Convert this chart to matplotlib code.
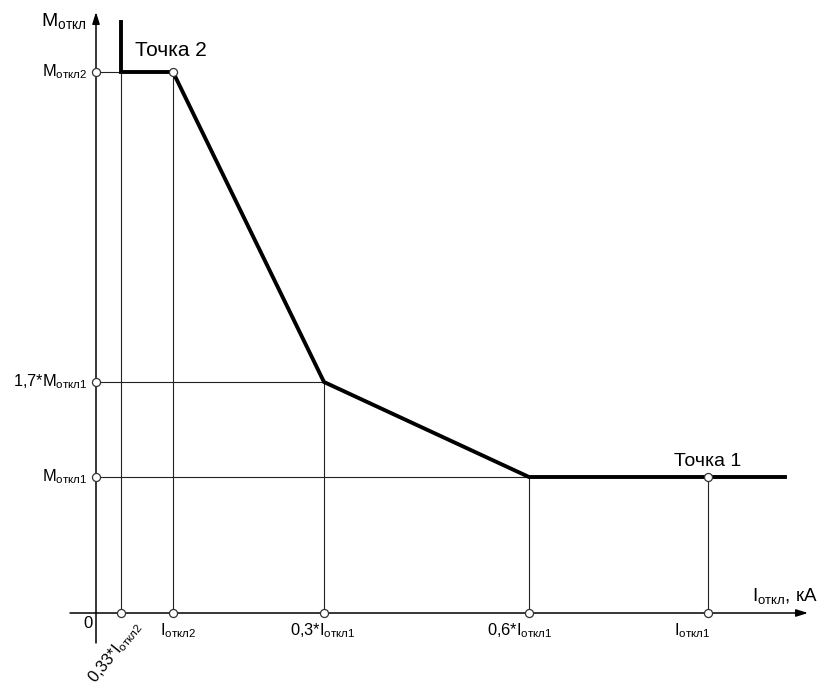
import numpy as np
import matplotlib.pyplot as plt

plt.rcParams['font.family'] = ['Liberation Sans', 'DejaVu Sans']
plt.rcParams['mathtext.fontset'] = 'custom'
plt.rcParams['mathtext.rm'] = 'Liberation Sans'
plt.rcParams['mathtext.it'] = 'Liberation Sans'

# schematic positions (pixels from origin)
i_points = [25, 77, 228, 433, 612]          # 0.33*I2, I2, 0.3*I1, 0.6*I1, I1
i_labels = ['0,33*$\\mathrm{I}_{\\mathrm{откл2}}$', '$\\mathrm{I}_{\\mathrm{откл2}}$',
            '0,3*$\\mathrm{I}_{\\mathrm{откл1}}$', '0,6*$\\mathrm{I}_{\\mathrm{откл1}}$',
            '$\\mathrm{I}_{\\mathrm{откл1}}$']
i_label_shift = [0, 5, -1, -9, -16]

m_points = [541, 231, 136]                  # M2, 1.7*M1, M1
m_labels = ['$\\mathrm{M}_{\\mathrm{откл2}}$', '1,7*$\\mathrm{M}_{\\mathrm{откл1}}$',
            '$\\mathrm{M}_{\\mathrm{откл1}}$']

curve_x = [25, 25, 77, 228, 433, 689]
curve_y = [591, 541, 541, 231, 136, 136]

fig = plt.figure(figsize=(8.22, 6.86), dpi=100)
ax = fig.add_axes([0, 0, 1, 1])
ax.set_xlim(-96, 726)
ax.set_ylim(-73, 613)
ax.axis('off')

thin = dict(color='#222222', lw=0.8, zorder=2)

# drop lines to the x axis
for x in i_points:
    top = np.interp(x, curve_x[1:], curve_y[1:])
    ax.plot([x, x], [0, top], **thin)

# horizontal lines from the y axis
for y in m_points:
    hit = [cx for cx, cy in zip(curve_x[1:], curve_y[1:]) if cy == y][0]
    ax.plot([0, hit], [y, y], **thin)

# axes with arrows
ax.annotate('', xy=(712, 0), xytext=(-26, 0),
            arrowprops=dict(arrowstyle='-|>,head_length=0.7,head_width=0.22',
                            color='black', lw=1.1, shrinkA=0, shrinkB=0), zorder=3)
ax.annotate('', xy=(0, 601), xytext=(0, -30),
            arrowprops=dict(arrowstyle='-|>,head_length=0.7,head_width=0.22',
                            color='black', lw=1.1, shrinkA=0, shrinkB=0), zorder=3)

# characteristic
ax.plot(curve_x, curve_y, color='black', lw=2.8, solid_joinstyle='miter', zorder=4)

# markers
mk = dict(marker='o', ms=5.8, mfc='white', mec='#333333', mew=0.9, ls='none', zorder=5)
ax.plot(i_points, [0] * len(i_points), **mk)
ax.plot([0] * len(m_points), m_points, **mk)
ax.plot([curve_x[2], i_points[-1]], [curve_y[2], curve_y[-1]], **mk)

# tick labels
for x, lab, dx in zip(i_points[1:], i_labels[1:], i_label_shift[1:]):
    ax.text(x + dx, -8, lab, ha='center', va='top', fontsize=11.8)
ax.text(i_points[0] + 17, -11, i_labels[0], ha='right', va='center',
        rotation=51, rotation_mode='anchor', fontsize=11.8)
for y, lab in zip(m_points, m_labels):
    ax.text(-9, y, lab, ha='right', va='center', fontsize=11.8)
ax.text(-8, -11, '0', ha='center', va='center', fontsize=12)

# axis titles and points
ax.text(-55, 592, '$\\mathrm{M}_{\\mathrm{откл}}$', ha='left', va='center', fontsize=14)
ax.text(656, 17, '$\\mathrm{I}_{\\mathrm{откл}}$, кА', ha='left', va='center', fontsize=13.5)
ax.text(39, 562, 'Точка 2', ha='left', va='center', fontsize=15)
ax.text(612, 152, 'Точка 1', ha='center', va='center', fontsize=14)

fig.savefig('out.png', dpi=100)
